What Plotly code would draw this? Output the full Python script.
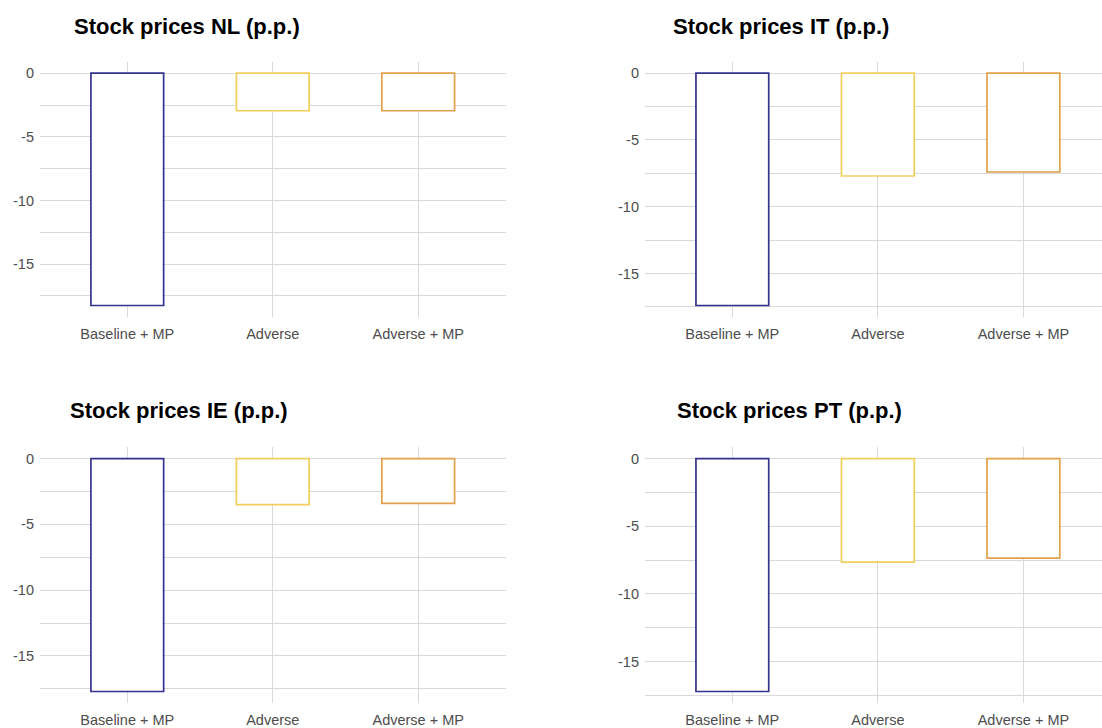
import plotly.graph_objects as go

W, H = 1102, 728

scenarios = ["Baseline + MP", "Adverse", "Adverse + MP"]
bar_colors = ["#33338f", "#f2cf5b", "#e1a049"]

countries = ["NL", "IT", "IE", "PT"]
stock_nl = [-18.25, -2.95, -2.95]
stock_it = [-17.4, -7.7, -7.4]
stock_ie = [-17.7, -3.5, -3.4]
stock_pt = [-17.2, -7.65, -7.35]

major_ticks = [0, -5, -10, -15]
major_labels = ["0", "-5", "-10", "-15"]
minor_ticks = [-2.5, -7.5, -12.5, -17.5]

GRID = "#d9d9d9"
FONT = "Arial, Liberation Sans, sans-serif"

# panel boxes in pixels: (left, right, top, bottom), plus x-range upper bound
panels = [
    (40, 505.5, 62, 319.3, 2.6),
    (645, 1102, 62, 319.3, 2.54),
    (40, 505.5, 450, 708, 2.6),
    (645, 1102, 450, 708, 2.54),
]
title_pos = [(72, 26.7), (671, 26.7), (68, 413.3), (675, 413.3)]

fig = go.Figure()

for i, (code, vals) in enumerate(zip(countries, [stock_nl, stock_it, stock_ie, stock_pt])):
    n = "" if i == 0 else str(i + 1)
    fig.add_trace(
        go.Bar(
            x=scenarios,
            y=vals,
            width=0.5,
            marker=dict(color="white", line=dict(color=bar_colors, width=1.7)),
            xaxis="x" + n,
            yaxis="y" + n,
            showlegend=False,
            hoverinfo="x+y",
        )
    )

    left, right, top, bottom, xmax = panels[i]
    span = -min(vals)
    fig.layout["xaxis" + n] = dict(
        domain=[left / W, right / W],
        anchor="y" + n,
        type="category",
        range=[-0.6, xmax],
        showgrid=True,
        gridcolor=GRID,
        gridwidth=1.2,
        showline=False,
        zeroline=False,
        ticks="",
        ticklabelstandoff=6,
        tickfont=dict(size=14.5, color="#4d4d4d", family=FONT),
        fixedrange=True,
    )
    fig.layout["yaxis" + n] = dict(
        domain=[1 - bottom / H, 1 - top / H],
        anchor="x" + n,
        range=[-span * 1.05, span * 0.05],
        tickvals=major_ticks,
        ticktext=major_labels,
        showgrid=True,
        gridcolor=GRID,
        gridwidth=1.2,
        minor=dict(tickvals=minor_ticks, showgrid=True, gridcolor=GRID, gridwidth=1.2),
        zeroline=False,
        showline=False,
        ticks="",
        ticklabelstandoff=5,
        tickfont=dict(size=14.5, color="#4d4d4d", family=FONT),
        fixedrange=True,
    )

    tx, ty = title_pos[i]
    fig.add_annotation(
        text=f"<b>Stock prices {code} (p.p.)</b>",
        xref="paper", yref="paper",
        x=tx / W, y=1 - ty / H,
        xanchor="left", yanchor="middle",
        showarrow=False,
        font=dict(size=22, color="black", family=FONT),
    )

fig.update_layout(
    width=W,
    height=H,
    margin=dict(l=0, r=0, t=0, b=0),
    paper_bgcolor="white",
    plot_bgcolor="white",
    font=dict(family=FONT),
)

# drop the default 8px page margin so the figure sits at the window's corner
fig.write_html(
    "out.html",
    config={"displayModeBar": False},
    post_script="document.body.style.margin='0px';",
)
